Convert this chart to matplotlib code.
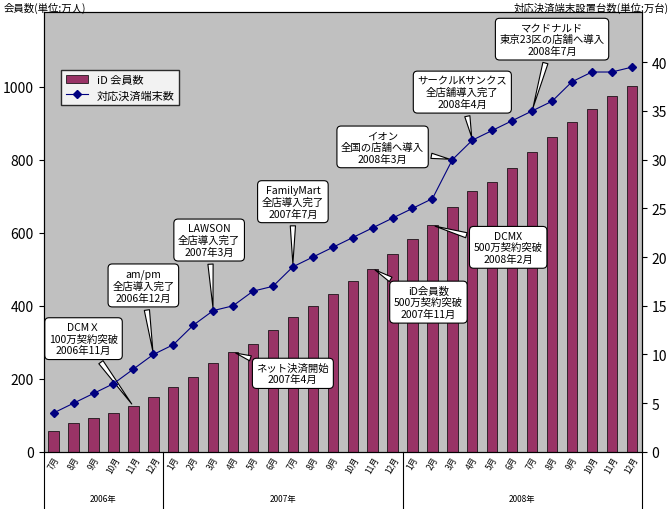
import matplotlib.pyplot as plt
import numpy as np

plt.rcParams['font.family'] = 'Noto Sans CJK JP'

months = ['7月', '8月', '9月', '10月', '11月', '12月'] + \
    [f'{m}月' for m in range(1, 13)] * 2
years = ['2006年', '2007年', '2008年']
year_spans = [(0, 6), (6, 18), (18, 30)]

members = [57, 78, 92, 106, 125, 150, 178, 205, 243, 273, 295, 333, 368, 400,
           432, 467, 502, 543, 582, 620, 670, 713, 740, 778, 820, 863, 902,
           940, 975, 1003]
terminals = [4, 5, 6, 7, 8.5, 10, 11, 13, 14.5, 15, 16.5, 17, 19, 20, 21, 22,
             23, 24, 25, 26, 30, 32, 33, 34, 35, 36, 38, 39, 39, 39.5]

# callouts: (text, month index, which series, text position in left-axis data coords)
callouts = [
    ('DCMＸ\n100万契約突破\n2006年11月', 4, 'bar', (1.5, 310)),
    ('am/pm\n全店導入完了\n2006年12月', 5, 'line', (4.5, 455)),
    ('LAWSON\n全店導入完了\n2007年3月', 8, 'line', (7.8, 580)),
    ('FamilyMart\n全店導入完了\n2007年7月', 12, 'line', (12.0, 685)),
    ('イオン\n全国の店舗へ導入\n2008年3月', 20, 'line', (16.5, 835)),
    ('サークルKサンクス\n全店舗導入完了\n2008年4月', 21, 'line', (20.5, 985)),
    ('マクドナルド\n東京23区の店舗へ導入\n2008年7月', 24, 'line', (25.0, 1130)),
    ('ネット決済開始\n2007年4月', 9, 'bar', (12.0, 215)),
    ('iD会員数\n500万契約突破\n2007年11月', 16, 'bar', (18.8, 410)),
    ('DCMX\n500万契約突破\n2008年2月', 19, 'bar', (22.8, 560)),
]

x = np.arange(len(months))
fig, ax = plt.subplots(figsize=(6.72, 5.10), dpi=100)
fig.subplots_adjust(left=0.065, right=0.955, top=0.975, bottom=0.112)
ax.set_facecolor('#c0c0c0')
ax.bar(x, members, width=0.52, color='#993366', edgecolor='black', linewidth=0.5,
       label='iD 会員数', zorder=2)
ax.set_xlim(-0.5, len(months) - 0.5)
ax.set_ylim(0, 1205)
ax.set_yticks(range(0, 1001, 200))
ax.tick_params(axis='y', labelsize=10)
ax.set_xticks(x)
ax.set_xticklabels(months, rotation=60, fontsize=6)
ax.tick_params(axis='x', length=0, pad=2)

ax2 = ax.twinx()
ax2.plot(x, terminals, color='#000080', marker='D', markersize=4, linewidth=0.8,
         label='対応決済端末数', zorder=3)
ax2.set_ylim(0, 1205 / 1200 * 45)
ax2.set_yticks(range(0, 41, 5))
ax2.tick_params(axis='y', labelsize=10)

h1, l1 = ax.get_legend_handles_labels()
h2, l2 = ax2.get_legend_handles_labels()
leg = ax.legend(h1 + h2, l1 + l2, loc='upper left', bbox_to_anchor=(0.02, 0.88),
                fontsize=8, frameon=True, fancybox=False, edgecolor='black')
leg.get_frame().set_facecolor('white')

scale = 1200 / 45
for text, i, kind, pos in callouts:
    y = members[i] if kind == 'bar' else terminals[i] * scale
    ax.annotate(text, xy=(i, y), xytext=pos, ha='center', va='center', fontsize=7.5,
                bbox=dict(boxstyle='round,pad=0.4', fc='white', ec='black', lw=0.8),
                arrowprops=dict(arrowstyle='wedge,tail_width=0.5', fc='white',
                                ec='black', lw=0.8), zorder=5)

fig.text(0.005, 0.995, '会員数(単位:万人)', fontsize=7.5, va='top')
fig.text(0.995, 0.995, '対応決済端末設置台数(単位:万台)', fontsize=7.5, va='top', ha='right')

# year row under the month labels
for yr, (a, b) in zip(years, year_spans):
    ax.text((a + b - 1) / 2, -0.105, yr, transform=ax.get_xaxis_transform(),
            ha='center', va='center', fontsize=6)
for a in [0, 6, 18, 30]:
    ax.plot([a - 0.5, a - 0.5], [0, -0.13], transform=ax.get_xaxis_transform(),
            color='black', lw=0.8, clip_on=False)

plt.savefig('out.png', dpi=100)
